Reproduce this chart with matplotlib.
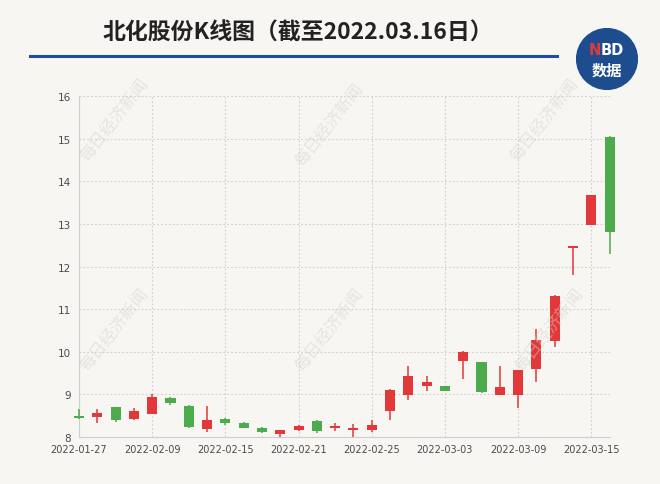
import numpy as np
import matplotlib.pyplot as plt
from matplotlib.patches import Circle
from matplotlib.lines import Line2D

plt.rcParams['font.family'] = ['Noto Sans CJK SC', 'DejaVu Sans']

# trading days
dates = ['2022-01-27', '2022-01-28', '2022-02-07', '2022-02-08', '2022-02-09',
         '2022-02-10', '2022-02-11', '2022-02-14', '2022-02-15', '2022-02-16',
         '2022-02-17', '2022-02-18', '2022-02-21', '2022-02-22', '2022-02-23',
         '2022-02-24', '2022-02-25', '2022-02-28', '2022-03-01', '2022-03-02',
         '2022-03-03', '2022-03-04', '2022-03-07', '2022-03-08', '2022-03-09',
         '2022-03-10', '2022-03-11', '2022-03-14', '2022-03-15', '2022-03-16']
opens = [8.50, 8.48, 8.70, 8.43, 8.54, 8.91, 8.73, 8.19, 8.42, 8.32,
         8.22, 8.06, 8.16, 8.38, 8.20, 8.17, 8.17, 8.62, 8.98, 9.19,
         9.19, 9.79, 9.75, 8.98, 8.99, 9.59, 10.26, 12.44, 12.98, 15.03]
closes = [8.45, 8.56, 8.41, 8.62, 8.95, 8.80, 8.23, 8.41, 8.32, 8.22,
          8.11, 8.16, 8.25, 8.13, 8.26, 8.20, 8.28, 9.11, 9.44, 9.30,
          9.09, 10.00, 9.05, 9.18, 9.57, 10.27, 11.31, 12.44, 13.68, 12.80]
highs = [8.66, 8.65, 8.71, 8.68, 9.01, 8.93, 8.74, 8.72, 8.45, 8.36,
         8.23, 8.17, 8.28, 8.41, 8.34, 8.30, 8.41, 9.12, 9.67, 9.43,
         9.20, 10.01, 9.76, 9.67, 9.58, 10.53, 11.32, 12.44, 13.68, 15.05]
lows = [8.43, 8.34, 8.36, 8.41, 8.53, 8.74, 8.22, 8.11, 8.29, 8.21,
        8.10, 8.01, 8.14, 8.10, 8.15, 8.00, 8.11, 8.40, 8.87, 9.09,
        9.07, 9.37, 9.03, 8.98, 8.68, 9.30, 10.10, 11.80, 12.98, 12.30]

title = '北化股份K线图（截至2022.03.16日）'
up_color = '#e2383a'
down_color = '#4cab4c'
bg = '#f8f6f2'

fig = plt.figure(figsize=(6.6, 4.85), dpi=100, facecolor=bg)

# watermark
for (wx, wy) in [(115, 120), (330, 125), (545, 120), (115, 330), (330, 330), (550, 330)]:
    fig.text(wx / 660, 1 - wy / 485, '每日经济新闻', rotation=52, fontsize=12,
             color='#d8d2c8', alpha=0.5, ha='center', va='center', zorder=0)

ax = fig.add_axes([79 / 660, 1 - 438 / 485, 530.6 / 660, 341 / 485])
ax.set_facecolor('none')

x = np.arange(len(dates))
o = np.array(opens)
c = np.array(closes)
colors = [up_color if cc >= oo else down_color for oo, cc in zip(o, c)]
body_bottom = np.minimum(o, c)
body_h = np.maximum(np.abs(c - o), 0.03)

ax.vlines(x, lows, highs, colors=colors, linewidth=1.1, zorder=3, clip_on=False)
ax.bar(x, body_h, bottom=body_bottom, width=0.55, color=colors, zorder=4, clip_on=False)

ax.set_xlim(0, 29)
ax.set_ylim(8, 16)
ax.set_yticks(range(8, 17))
ax.set_xticks(x[::4])
ax.set_xticklabels(dates[::4], family='DejaVu Sans')
ax.tick_params(length=0, labelsize=7, colors='#4a4a4a')
ax.tick_params(axis='x', pad=5)
ax.tick_params(axis='y', pad=6)
for lab in ax.get_yticklabels():
    lab.set_family('DejaVu Sans')
    lab.set_fontsize(7.5)
ax.grid(True, linestyle=(0, (1.5, 2)), color='#cfcfcf', linewidth=0.8, zorder=1)
for s in ['top', 'right']:
    ax.spines[s].set_visible(False)
for s in ['left', 'bottom']:
    ax.spines[s].set_color('#cfcfcf')
    ax.spines[s].set_linewidth(0.8)

# title and rule
fig.text(298 / 660, 1 - 33 / 485, title, fontsize=16.5, fontweight='bold',
         color='#222222', ha='center', va='center')
fig.add_artist(Line2D([30 / 660, 557 / 660], [1 - 57 / 485, 1 - 57 / 485],
                      color='#1c4f9c', linewidth=2.2))

# logo
lax = fig.add_axes([576 / 660, 1 - 91 / 485, 62 / 660, 62 / 485])
lax.set_xlim(-1, 1)
lax.set_ylim(-1, 1)
lax.set_aspect('equal')
lax.axis('off')
lax.add_patch(Circle((0, 0), 0.98, color='#1d4d8f'))
lax.text(-0.2, 0.3, 'N', color='#e23a3a', fontsize=10.5, fontweight='bold',
         ha='right', va='center', family='DejaVu Sans')
lax.text(-0.2, 0.3, 'BD', color='white', fontsize=10.5, fontweight='bold',
         ha='left', va='center', family='DejaVu Sans')
lax.text(0, -0.35, '数据', color='white', fontsize=11, fontweight='bold',
         ha='center', va='center')

fig.savefig('out.png', dpi=100, facecolor=bg)
